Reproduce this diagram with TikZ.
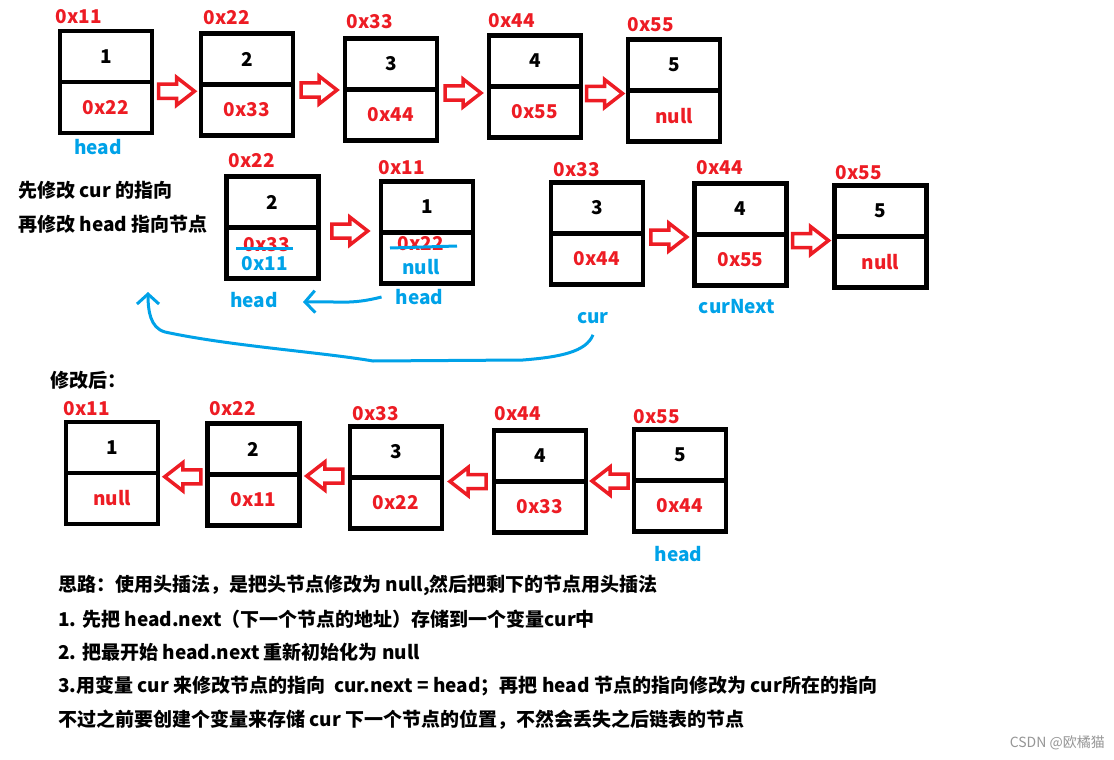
\documentclass[tikz,border=0pt]{standalone}
\usepackage{fontspec}
\setmainfont{Noto Sans CJK SC}
\usepackage{xcolor}
\definecolor{paintred}{RGB}{237,28,36}
\definecolor{paintblue}{RGB}{0,162,232}
\definecolor{markgray}{RGB}{150,150,150}
\newcommand\labelfont{\fontsize{19}{23}\selectfont\bfseries}
\usetikzlibrary{
  arrows.meta,
  positioning,
  calc
}

\begin{document}
\begin{tikzpicture}[
    x=1pt, y=-1pt,
    cell/.style={
      rectangle, draw=black, line width=4.5pt,
      minimum width=92pt, minimum height=51pt,
      inner sep=0pt, outer sep=0pt, font=\labelfont
    },
    ptr/.style={cell, text=paintred},
    addr/.style={font=\labelfont, text=paintred, inner sep=0pt},
    tag/.style={font=\labelfont, text=paintblue, inner sep=0pt},
    note/.style={font=\labelfont, inner sep=0pt, anchor=west},
    strike/.style={paintblue, line width=3pt},
    bluearrow/.style={paintblue, line width=3pt,
      -{Straight Barb[length=10pt, width=22pt]}},
    nextarrow/.pic={
      \draw[paintred, line width=3.5pt, line join=miter]
        (-18,-7) -- (0,-7) -- (0,-14) -- (18,0) -- (0,14) -- (0,7) -- (-18,7) -- cycle;
    }
  ]

  \fill[white] (0,0) rectangle (1114,760);
  \useasboundingbox (0,0) rectangle (1114,760);

  %% ===== original list (top) =====
  \node[cell] (a1) at (106,56.5) {1};
  \node[ptr, below=0pt of a1] (a1n) {0x22};
  \node[addr] at (79,17) {0x11};

  \node[cell] (a2) at (247,59) {2};
  \node[ptr, below=0pt of a2] (a2n) {0x33};
  \node[addr] at (227,18) {0x22};

  \node[cell] (a3) at (391,64) {3};
  \node[ptr, below=0pt of a3] (a3n) {0x44};
  \node[addr] at (370,22) {0x33};

  \node[cell] (a4) at (535,61) {4};
  \node[ptr, below=0pt of a4] (a4n) {0x55};
  \node[addr] at (512,21) {0x44};

  \node[cell] (a5) at (674,65) {5};
  \node[ptr, below=0pt of a5] (a5n) {null};
  \node[addr] at (651,25) {0x55};

  \node[tag] (ahead) at (98,147) {head};

  \pic at ($(a1.south east)!.5!(a2.south west)+(0,8)$) {nextarrow};
  \pic at ($(a2.south east)!.5!(a3.south west)+(0,3)$) {nextarrow};
  \pic at ($(a3.south east)!.5!(a4.south west)+(0,5)$) {nextarrow};
  \pic at ($(a4.south east)!.5!(a5.south west)+(0,5)$) {nextarrow};

  %% ===== while reversing (middle) =====
  \node[note] (step1) at (18,190) {先修改 cur 的指向};
  \node[note] (step2) at (18,224.5) {再修改 head 指向节点};

  \node[cell] (b2) at (272.5,202) {2};
  \node[cell, below=0pt of b2] (b2n) {};
  \node[addr] at (252,161) {0x22};
  \node[addr] (old2) at (267,245) {0x33};
  \draw[strike] (236,248) -- (293,248);
  \node[tag] (new2) at (265,264) {0x11};

  \node[cell] (b1) at (427,207) {1};
  \node[cell, below=0pt of b1] (b1n) {};
  \node[addr] at (402,168) {0x11};
  \node[addr] (old1) at (421,244) {0x22};
  \draw[strike] (390,248) -- (457,246);
  \node[tag] (new1) at (421,267) {null};

  \node[cell] (b3) at (597,208) {3};
  \node[ptr, below=0pt of b3] (b3n) {0x44};
  \node[addr] at (577,170) {0x33};

  \node[cell] (b4) at (740.5,209) {4};
  \node[ptr, below=0pt of b4] (b4n) {0x55};
  \node[addr] at (720,168) {0x44};

  \node[cell] (b5) at (880.5,211) {5};
  \node[ptr, below=0pt of b5] (b5n) {null};
  \node[addr] at (859,173) {0x55};

  \pic at ($(b2.south east)!.5!(b1.south west)+(0,1)$) {nextarrow};
  \pic at ($(b3.south east)!.5!(b4.south west)+(0,3)$) {nextarrow};
  \pic at ($(b4.south east)!.5!(b5.south west)+(0,5)$) {nextarrow};

  \node[tag] (bhead2) at (254,300) {head};
  \node[tag] (bhead1) at (419.5,297) {head};
  \node[tag] (cur) at (593,318) {cur};
  \node[tag] (curnext) at (737,307) {curNext};

  \coordinate (headtip) at (303,302);
  \coordinate (curtip) at (148,292);
  \draw[bluearrow] ([xshift=-14pt]bhead1.west)
    .. controls (350,305) and (340,301) .. (headtip);
  \draw[bluearrow] ([yshift=-11pt]cur.south)
    .. controls (586,352) and (560,357) .. (523,360) -- (373,361)
    .. controls (320,352) and (230,346) .. (165,332)
    .. controls (150,328) and (148,310) .. (curtip);

  %% ===== after reversing (bottom) =====
  \node[note] (after) at (50,380) {修改后：};

  \node[cell] (c1) at (112,447.5) {1};
  \node[ptr, below=0pt of c1] (c1n) {null};
  \node[addr] at (87,408.5) {0x11};

  \node[cell] (c2) at (253.5,449) {2};
  \node[ptr, below=0pt of c2] (c2n) {0x11};
  \node[addr] at (233,408.5) {0x22};

  \node[cell] (c3) at (396,452) {3};
  \node[ptr, below=0pt of c3] (c3n) {0x22};
  \node[addr] at (376,414) {0x33};

  \node[cell] (c4) at (540,456) {4};
  \node[ptr, below=0pt of c4] (c4n) {0x33};
  \node[addr] at (518,413.5) {0x44};

  \node[cell] (c5) at (680,455) {5};
  \node[ptr, below=0pt of c5] (c5n) {0x44};
  \node[addr] at (657,416.5) {0x55};

  \node[tag] (chead) at (678.5,554.5) {head};

  \pic[xscale=-1] at ($(c1.south east)!.5!(c2.south west)+(0,3)$) {nextarrow};
  \pic[xscale=-1] at ($(c2.south east)!.5!(c3.south west)+(0,0)$) {nextarrow};
  \pic[xscale=-1] at ($(c3.south east)!.5!(c4.south west)+(0,2)$) {nextarrow};
  \pic[xscale=-1] at ($(c4.south east)!.5!(c5.south west)+(0,0)$) {nextarrow};

  %% ===== notes =====
  \node[note] (idea) at (58,585) {思路：使用头插法，是把头节点修改为 null,然后把剩下的节点用头插法};
  \node[note] (line1) at (58,619) {1. 先把 head.next（下一个节点的地址）存储到一个变量cur中};
  \node[note] (line2) at (58,652) {2. 把最开始 head.next 重新初始化为 null};
  \node[note] (line3) at (58,686) {3.用变量 cur 来修改节点的指向~~cur.next = head；再把 head 节点的指向修改为 cur所在的指向};
  \node[note] (line4) at (58,720) {不过之前要创建个变量来存储 cur 下一个节点的位置，不然会丢失之后链表的节点};

  \node[font=\fontsize{14}{16}\selectfont, text=markgray, inner sep=0pt, anchor=east]
    (mark) at (1105,743) {CSDN @欧橘猫};
\end{tikzpicture}
\end{document}
